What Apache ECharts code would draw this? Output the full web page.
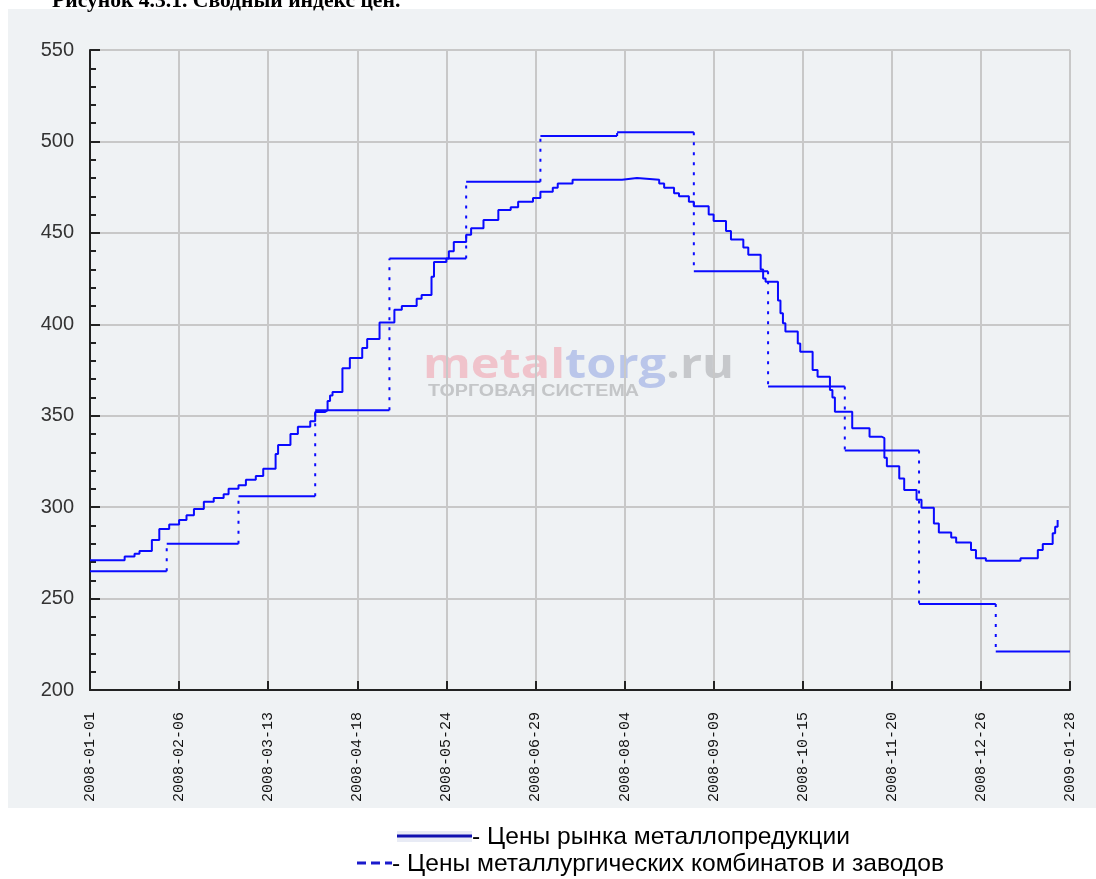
<!DOCTYPE html>
<html>
<head>
    <meta charset="utf-8">
    <title>Сводный индекс цен</title>
    <script src="https://cdn.jsdelivr.net/npm/echarts@6/dist/echarts.min.js"></script>
    <style>
        html, body { margin: 0; padding: 0; background: #fff; }
    </style>
</head>
<body>
    <div id="main" style="width: 1096px;height:879px;"></div>
    <script type="text/javascript">
        // x values are days since 2008-01-01, one tick every 36 days
        var tickLabels = ['2008-01-01', '2008-02-06', '2008-03-13', '2008-04-18', '2008-05-24', '2008-06-29',
            '2008-08-04', '2008-09-09', '2008-10-15', '2008-11-20', '2008-12-26', '2009-01-28'];

        // Цены рынка металлопредукции (step starts: day, value)
        var marketDays = [0, 14, 18, 20, 25, 28, 32, 36, 39, 42, 46, 50, 54, 56, 60, 63, 67, 70, 75, 76,
            81, 84, 89, 91, 95, 96, 97, 98, 102, 105, 110, 112, 117, 123, 126, 132, 134, 138, 139, 144,
            145, 147, 152, 154, 159, 165, 170, 173, 179, 182, 187, 189, 195, 215, 221, 230, 232, 236, 238, 242,
            244, 250, 252, 257, 259, 264, 266, 271, 272, 273, 278, 279, 280, 281, 286, 287, 292, 294, 299, 300,
            301, 308, 315, 320, 321, 322, 327, 329, 334, 336, 341, 343, 348, 350, 356, 358, 362, 376, 383, 385,
            389, 390, 391];
        var marketValues = [271, 273, 274.5, 276, 282, 288, 290.5, 293, 295.5, 299, 303, 305, 307, 310, 312, 315, 317, 321, 329, 334,
            340, 344, 347, 352, 353, 358, 361, 363, 376, 381.5, 387, 392, 401, 408, 410, 414, 416, 426, 434, 436,
            440, 445, 449, 452.5, 457, 462.5, 464, 467, 469, 472.5, 474.7, 477, 479, 480, 479, 477, 474.7, 471.6, 470, 467,
            464.5, 460, 456.5, 451, 446.3, 442, 438, 430, 425, 423.3, 413, 406, 400.5, 396, 389.5, 385, 375, 371.3, 364, 360,
            352.2, 343.1, 338.5, 337.7, 327, 322.3, 315.7, 309.4, 304, 299.7, 291, 286.2, 283.4, 280.7, 276.6, 272, 270.7, 272, 276.6, 279.8,
            285.7, 289.3, 293];

        // Цены металлургических комбинатов и заводов (monthly steps)
        var plantDays = [0, 31, 60, 91, 121, 152, 182, 213, 244, 274, 305, 335, 366];
        var plantValues = [265, 280, 306, 353, 436, 478, 503, 505, 429, 366, 331, 247, 221];
        var plantEndDay = 396;

        var lineBlue = '#0a0aff';

        var marketData = marketDays.map(function (d, i) {
            return [d, marketValues[i]];
        });

        var plantFlat = [];
        var plantJumps = [];
        plantDays.forEach(function (d, i) {
            var next = i < plantDays.length - 1 ? plantDays[i + 1] : plantEndDay;
            plantFlat.push([d, plantValues[i]], [next, plantValues[i]], [next, '-']);
            if (i < plantDays.length - 1) {
                plantJumps.push([next, plantValues[i]], [next, plantValues[i + 1]], [next, '-']);
            }
        });

        var myChart = echarts.init(document.getElementById('main'));

        var option = {
            animation: false,
            backgroundColor: '#ffffff',
            graphic: [{
                type: 'rect',
                z: -20,
                shape: { x: 8, y: 9, width: 1088, height: 799 },
                style: { fill: '#eff2f4' }
            }, {
                type: 'text',
                z: -10,
                x: 423,
                y: 366,
                scaleX: 1.16,
                style: {
                    text: '{a|metal}{b|torg}{c|.ru}',
                    verticalAlign: 'middle',
                    rich: {
                        a: { font: 'bold 42px "Open Sans"', fill: '#f0c3cb' },
                        b: { font: 'bold 42px "Open Sans"', fill: '#bac6ea' },
                        c: { font: 'bold 42px "Open Sans"', fill: '#c6c8cb' }
                    }
                }
            }, {
                type: 'text',
                z: -10,
                x: 428,
                y: 392,
                scaleX: 1.23,
                style: {
                    text: 'ТОРГОВАЯ СИСТЕМА',
                    font: 'bold 16px "Liberation Sans"',
                    fill: '#c4c6c8',
                    verticalAlign: 'middle'
                }
            }, {
                type: 'text',
                x: 52,
                y: -10,
                style: {
                    text: 'Рисунок 4.3.1. Сводный индекс цен.',
                    font: 'bold 21.6px "Liberation Serif"',
                    fill: '#000',
                    verticalAlign: 'top'
                }
            }, {
                type: 'rect',
                shape: { x: 397, y: 831, width: 75, height: 11 },
                style: { fill: '#e8ebf5' }
            }, {
                type: 'line',
                shape: { x1: 397, y1: 836, x2: 472, y2: 836 },
                style: { stroke: '#1010b0', lineWidth: 3 }
            }, {
                type: 'text',
                x: 472,
                y: 837,
                style: {
                    text: '- Цены рынка металлопредукции',
                    font: '24.6px "Liberation Sans"',
                    fill: '#000',
                    verticalAlign: 'middle'
                }
            }, {
                type: 'line',
                shape: { x1: 357, y1: 863, x2: 392, y2: 863 },
                style: { stroke: '#1a1acc', lineWidth: 3, lineDash: [9, 5] }
            }, {
                type: 'text',
                x: 392,
                y: 864,
                style: {
                    text: '- Цены металлургических комбинатов и заводов',
                    font: '24.6px "Liberation Sans"',
                    fill: '#000',
                    verticalAlign: 'middle'
                }
            }],
            grid: {
                left: 90,
                right: 26,
                top: 50,
                bottom: 189
            },
            xAxis: {
                type: 'value',
                min: 0,
                max: 396,
                interval: 36,
                axisLine: { show: true, lineStyle: { color: '#222', width: 2 } },
                axisTick: { show: true, inside: true, length: 9, lineStyle: { color: '#222', width: 2 } },
                axisLabel: {
                    rotate: 90,
                    margin: 22,
                    fontFamily: 'Liberation Mono',
                    fontSize: 15,
                    color: '#111',
                    formatter: function (v) {
                        return tickLabels[Math.round(v / 36)];
                    }
                },
                splitLine: { show: true, lineStyle: { color: '#c8c8c8', width: 2 } }
            },
            yAxis: {
                type: 'value',
                min: 200,
                max: 550,
                interval: 50,
                axisLine: { show: true, lineStyle: { color: '#222', width: 2 } },
                axisTick: { show: true, inside: true, length: 10, lineStyle: { color: '#222', width: 2 } },
                minorTick: { show: true, splitNumber: 5, length: 6, lineStyle: { color: '#222', width: 2 } },
                axisLabel: {
                    margin: 16,
                    fontFamily: 'Liberation Sans',
                    fontSize: 20,
                    color: '#333'
                },
                splitLine: { show: true, lineStyle: { color: '#c8c8c8', width: 2 } }
            },
            series: [{
                name: 'Цены рынка металлопредукции',
                type: 'line',
                step: 'end',
                symbol: 'none',
                lineStyle: { color: lineBlue, width: 2 },
                data: marketData
            }, {
                name: 'Цены металлургических комбинатов и заводов',
                type: 'line',
                symbol: 'none',
                lineStyle: { color: lineBlue, width: 2 },
                data: plantFlat
            }, {
                name: 'Цены металлургических комбинатов и заводов (переход)',
                type: 'line',
                symbol: 'none',
                lineStyle: { color: lineBlue, width: 2, type: [3, 7] },
                data: plantJumps
            }]
        };

        myChart.setOption(option);
    </script>
</body>
</html>
